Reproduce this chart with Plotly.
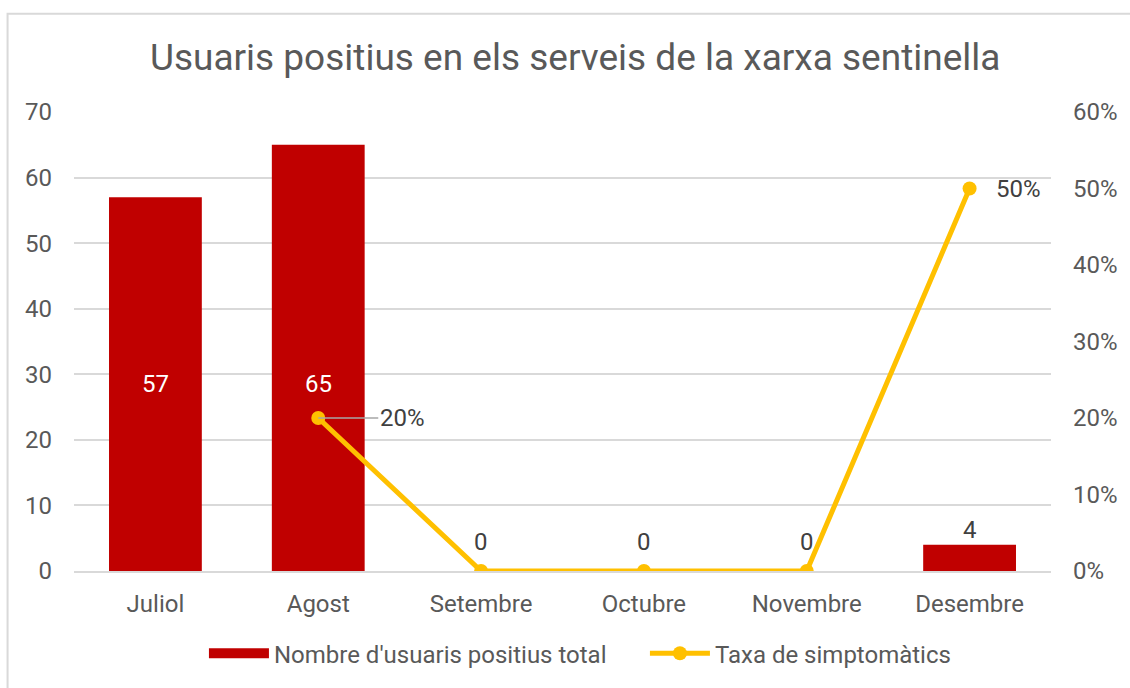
import plotly.graph_objects as go

# ------------------------------------------------------------
# Data
# ------------------------------------------------------------
mesos = ["Juliol", "Agost", "Setembre", "Octubre", "Novembre", "Desembre"]
usuaris_positius = [57, 65, 0, 0, 0, 4]
taxa_simptomatics = [None, 0.20, 0.0, 0.0, 0.0, 0.50]

y_left_ticks = [0, 10, 20, 30, 40, 50, 60, 70]
y_right_ticks = [0, 0.1, 0.2, 0.3, 0.4, 0.5, 0.6]

RED = "#C00000"
YELLOW = "#FFC000"
GRID = "#D9D9D9"
TEXT = "#595959"
LABEL = "#404040"
FONT = "Roboto"
FS = 24

# ------------------------------------------------------------
# Figure
# ------------------------------------------------------------
fig = go.Figure()

fig.add_trace(go.Bar(
    x=mesos,
    y=usuaris_positius,
    name="Nombre d'usuaris positius total",
    marker=dict(color=RED, line=dict(width=0)),
    width=0.57,
    showlegend=False,
    yaxis="y",
))

# legend entry drawn as a wide red block (like the original)
fig.add_trace(go.Scatter(
    x=[None], y=[None], mode="lines",
    name="Nombre d'usuaris positius total",
    line=dict(color=RED, width=14),
))

fig.add_trace(go.Scatter(
    x=mesos,
    y=taxa_simptomatics,
    name="Taxa de simptomàtics",
    mode="lines+markers",
    line=dict(color=YELLOW, width=5),
    marker=dict(color=YELLOW, size=14),
    connectgaps=False,
    yaxis="y2",
))

# bar data labels
mid_y = min(v for v in usuaris_positius if v >= 20) / 2
for m, v in zip(mesos, usuaris_positius):
    if v >= 20:
        fig.add_annotation(
            x=m, y=mid_y, xref="x", yref="y", text=str(v), showarrow=False,
            font=dict(family=FONT, size=FS, color="white"),
        )
    else:
        fig.add_annotation(
            x=m, y=v, xref="x", yref="y", text=str(v), showarrow=False,
            yanchor="middle", yshift=15 if v > 0 else 29,
            font=dict(family=FONT, size=FS, color=LABEL),
        )

# line data labels (non-zero rates only)
for m, v in zip(mesos, taxa_simptomatics):
    if v is None or v == 0:
        continue
    if v < 0.3:
        fig.add_annotation(
            x=m, y=v, yref="y2", xref="x",
            text=f"{v:.0%}", showarrow=True, arrowhead=0,
            arrowcolor="#A6A6A6", arrowwidth=1.5,
            ax=60, ay=0, xanchor="left",
            font=dict(family=FONT, size=FS, color=LABEL),
        )
    else:
        fig.add_annotation(
            x=m, y=v, yref="y2", xref="x",
            text=f"{v:.0%}", showarrow=False,
            xanchor="left", xshift=24,
            font=dict(family=FONT, size=FS, color=LABEL),
        )

# outer chart border
fig.add_shape(
    type="rect", xref="paper", yref="paper",
    x0=-0.068, x1=1.2, y0=-0.5, y1=1.214,
    line=dict(color=GRID, width=2), fillcolor="rgba(0,0,0,0)", layer="below",
)

fig.update_layout(
    title=dict(
        text="Usuaris positius en els serveis de la xarxa sentinella",
        x=0.509, xanchor="center", y=0.917, yanchor="middle",
        font=dict(family=FONT, size=37, color=TEXT),
    ),
    width=1130,
    height=688,
    margin=dict(l=74, r=72, t=112, b=114),
    paper_bgcolor="white",
    plot_bgcolor="white",
    font=dict(family=FONT, size=FS, color=TEXT),
    showlegend=True,
    legend=dict(
        orientation="h", x=0.133, xanchor="left", y=-0.18, yanchor="middle",
        font=dict(family=FONT, size=FS, color=TEXT),
        itemwidth=60, entrywidth=366, tracegroupgap=0,
    ),
    xaxis=dict(
        showgrid=False, showline=True, linecolor=GRID, linewidth=1.5,
        ticks="", ticklabelstandoff=10,
        tickfont=dict(family=FONT, size=FS, color=TEXT),
        range=[-0.5, 5.5],
    ),
    yaxis=dict(
        range=[0, 70], tickvals=y_left_ticks, showgrid=True, gridcolor=GRID,
        gridwidth=1.5, zeroline=False, showline=False, ticks="",
        ticklabelstandoff=21,
        tickfont=dict(family=FONT, size=FS, color=TEXT),
    ),
    yaxis2=dict(
        range=[0, 0.6], tickvals=y_right_ticks, tickformat=".0%",
        overlaying="y", side="right", showgrid=False, zeroline=False,
        showline=False, ticks="", ticklabelstandoff=21,
        tickfont=dict(family=FONT, size=FS, color=TEXT),
    ),
)

# page body margin removed so the 1130x688 figure fills the window exactly
fig.write_html(
    "out.html",
    config={"displayModeBar": False},
    post_script="document.body.style.margin='0';",
)
